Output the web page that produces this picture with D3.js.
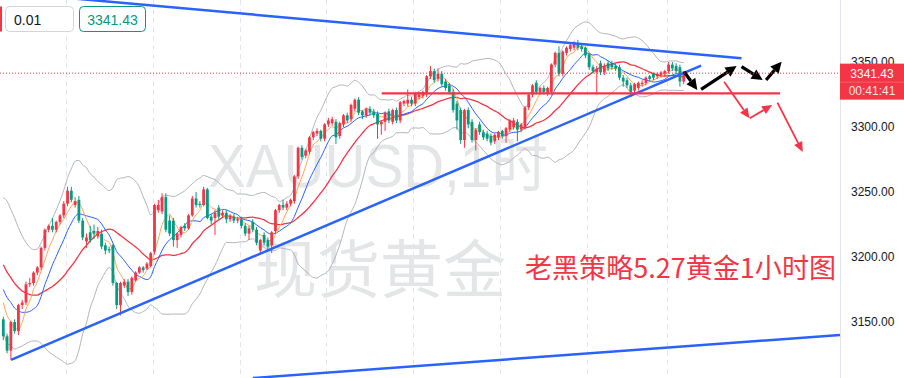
<!DOCTYPE html>
<html>
<head>
<meta charset="utf-8">
<script src="https://cdn.jsdelivr.net/npm/d3@7"></script>
<style>
  body { margin: 0; background: #fff; overflow: hidden; }
  svg { display: block; }
</style>
</head>
<body>
<script>
//Width and height
var w = 904;
var h = 378;
var plotW = 840;

//Hourly candles, XAUUSD (price units)
var opens = [3152,3139,3128,3150,3143,3163,3165,3179,3180,3188,
3192,3207,3221,3224,3221,3227,3232,3241,3251,3240,
3244,3228,3212,3219,3220,3216,3218,3209,3206,3209,
3180,3163,3178,3181,3173,3182,3188,3192,3191,3193,
3204,3236,3235,3246,3228,3228,3213,3217,3224,3222,
3232,3245,3241,3240,3252,3231,3230,3238,3232,3234,
3229,3231,3228,3229,3224,3218,3227,3221,3205,3217,
3213,3209,3220,3236,3240,3238,3241,3243,3262,3284,
3278,3281,3292,3295,3297,3291,3302,3303,3304,3293,
3302,3309,3306,3314,3321,3312,3309,3314,3312,3310,
3302,3304,3312,3304,3313,3305,3318,3318,3321,3318,
3323,3324,3325,3339,3343,3337,3341,3335,3332,3327,
3318,3313,3290,3313,3304,3290,3302,3296,3295,3293,
3289,3292,3297,3293,3298,3300,3304,3298,3300,3315,
3325,3334,3327,3330,3326,3327,3348,3357,3341,3357,
3360,3361,3364,3362,3361,3356,3346,3342,3349,3342,
3349,3349,3347,3346,3338,3336,3332,3328,3330,3333,
3334,3339,3341,3339,3340,3341,3343,3348,3347,3346,
3335];
var highs = [3154,3141,3151,3152,3164,3167,3181,3184,3189,3193,
3208,3222,3225,3230,3228,3233,3243,3254,3254,3246,
3247,3230,3218,3224,3225,3223,3221,3211,3208,3210,
3181,3181,3183,3183,3185,3189,3193,3193,3196,3204,
3241,3244,3249,3249,3232,3230,3219,3224,3226,3233,
3247,3250,3243,3254,3253,3233,3236,3240,3236,3236,
3233,3233,3231,3231,3226,3224,3229,3223,3214,3219,
3215,3220,3237,3241,3244,3243,3245,3263,3285,3286,
3283,3293,3297,3299,3298,3303,3307,3308,3306,3304,
3310,3311,3318,3322,3323,3313,3315,3316,3314,3312,
3305,3312,3314,3314,3315,3320,3321,3329,3323,3327,
3327,3328,3340,3347,3345,3345,3343,3337,3334,3329,
3320,3315,3314,3315,3306,3299,3304,3298,3297,3295,
3295,3297,3298,3300,3306,3307,3306,3303,3316,3326,
3333,3336,3331,3332,3331,3349,3358,3362,3359,3362,
3364,3366,3367,3364,3362,3357,3348,3347,3351,3349,
3351,3351,3349,3348,3340,3338,3334,3334,3335,3336,
3339,3340,3342,3342,3343,3344,3350,3350,3349,3348,
3343];
var lows = [3136,3126,3121,3141,3140,3160,3163,3177,3178,3186,
3190,3205,3219,3219,3219,3225,3230,3239,3242,3238,
3226,3213,3207,3211,3214,3214,3206,3202,3203,3178,
3160,3155,3176,3170,3171,3181,3187,3188,3190,3192,
3202,3234,3233,3219,3216,3208,3207,3215,3220,3221,
3231,3238,3238,3239,3229,3225,3217,3229,3230,3226,
3227,3226,3226,3222,3216,3213,3219,3209,3203,3209,
3204,3203,3218,3234,3236,3236,3239,3241,3260,3275,
3276,3279,3290,3293,3289,3289,3300,3301,3287,3291,
3300,3303,3304,3312,3309,3306,3307,3309,3307,3291,
3294,3297,3303,3302,3303,3303,3316,3316,3316,3316,
3321,3322,3323,3337,3334,3335,3331,3328,3325,3311,
3298,3287,3284,3299,3288,3282,3294,3290,3289,3286,
3287,3290,3291,3288,3296,3298,3289,3296,3298,3313,
3323,3325,3325,3325,3324,3325,3346,3339,3339,3355,
3358,3359,3359,3358,3353,3344,3341,3325,3340,3340,
3343,3344,3343,3336,3331,3330,3323,3326,3328,3331,
3332,3335,3336,3337,3338,3339,3341,3343,3341,3331,
3333];
var closes = [3139,3128,3150,3143,3163,3165,3179,3180,3188,3192,
3207,3221,3224,3221,3227,3232,3241,3251,3244,3243,
3228,3215,3215,3213,3218,3220,3208,3205,3205,3180,
3163,3180,3181,3173,3184,3188,3192,3190,3195,3203,
3240,3240,3246,3221,3218,3213,3218,3223,3222,3232,
3245,3240,3240,3252,3230,3228,3234,3231,3234,3229,
3231,3228,3229,3224,3218,3222,3221,3211,3213,3211,
3208,3219,3236,3240,3238,3241,3244,3262,3284,3277,
3282,3292,3296,3297,3291,3302,3305,3306,3292,3303,
3309,3305,3317,3321,3311,3309,3314,3311,3309,3302,
3304,3311,3305,3313,3305,3319,3320,3321,3318,3326,
3325,3327,3339,3343,3336,3341,3333,3330,3327,3313,
3305,3290,3313,3302,3290,3298,3296,3292,3291,3288,
3294,3296,3293,3299,3305,3305,3298,3302,3315,3325,
3332,3327,3330,3327,3330,3348,3357,3341,3358,3361,
3363,3365,3361,3360,3355,3346,3343,3345,3342,3347,
3345,3346,3345,3338,3335,3332,3327,3333,3334,3334,
3338,3337,3338,3341,3342,3343,3348,3345,3343,3335,
3341.43];

//closes before the first visible bar (only feed the averages)
var priorCloses = [3240,3236,3232,3226,3218,3210,3204,3198,3190,3176,
3190,3188,3186,3182,3179,3178,3174,3168,3166];

var sessionBreaks = [16.5, 39.5, 62.5, 85.5, 108.5, 131.5, 154.5, 175.5];
var priceTicks = [3150, 3200, 3250, 3300, 3350];
var lastPrice = 3341.43;
var countdown = "00:41:41";
var lotSize = "0.01";

//drawings: [bar index, price]
var upperTrend = [[0, 3403.7], [195.3, 3352.8]];
var lowerTrend = [[2.04, 3120.8], [184.6, 3347.2]];
var bottomTrend = [[66, 3106.9], [240, 3144]];
var supportLine = [[100.1, 3325.8], [205.5, 3325.8]];
//arrows: [from index, from price, to index, to price]
var blackArrows = [[180.1, 3342.5, 183.6, 3328.5], [184.6, 3329, 194.0, 3346.9],
                   [195.3, 3346.4, 200.9, 3336.2], [201.8, 3336.2, 205.9, 3350.2]];
var redArrows = [[190.7, 3334.8, 197.4, 3306.7], [197.5, 3306.7, 203.4, 3316.9],
                 [204.8, 3318.7, 211.5, 3280.8]];

var watermark1 = "XAUUSD,1时";
var watermark2 = "现货黄金";
var note = "老黑策略5.27黄金1小时图";

var up = "#f23645", down = "#089981";

var xScale = d3.scaleLinear().domain([0, 180]).range([3.3, 3.3 + 180 * 3.78]);
var yScale = d3.scaleLinear().domain([3150, 3350]).range([322, 62]);

var svg = d3.select("body").append("svg")
            .attr("width", w)
            .attr("height", h);

svg.append("defs").append("clipPath").attr("id", "plot")
   .append("rect").attr("x", 0).attr("y", 0).attr("width", plotW).attr("height", h);

// watermark
svg.append("text")
   .attr("x", 208).attr("y", 187)
   .attr("textLength", 340).attr("lengthAdjust", "spacingAndGlyphs")
   .style("font-family", "'Liberation Sans', Arial, 'Noto Sans CJK SC', sans-serif")
   .style("font-size", "62px")
   .style("fill", "rgba(120,123,134,0.2)")
   .text(watermark1);

svg.append("text")
   .attr("x", 254).attr("y", 292)
   .attr("textLength", 252).attr("lengthAdjust", "spacingAndGlyphs")
   .style("font-family", "'Noto Sans CJK SC', sans-serif")
   .style("font-size", "63px")
   .style("fill", "rgba(120,123,134,0.2)")
   .text(watermark2);

// day separators
svg.selectAll(".grid")
   .data(sessionBreaks)
   .enter().append("line")
   .attr("class", "grid")
   .attr("x1", function(d) { return Math.round(xScale(d)) + 0.5; })
   .attr("x2", function(d) { return Math.round(xScale(d)) + 0.5; })
   .attr("y1", 0).attr("y2", h)
   .attr("stroke", "#e3e5ec")
   .attr("stroke-dasharray", "5,4");

var plot = svg.append("g").attr("clip-path", "url(#plot)");

// indicators
var allCloses = priorCloses.concat(closes);
var off = priorCloses.length;
function windowAt(n, i) { return allCloses.slice(i + off - n + 1, i + off + 1); }
function sma(n, i) { return d3.mean(windowAt(n, i)); }
function sdev(n, i) {
  var s = windowAt(n, i), m = d3.mean(s);
  return Math.sqrt(d3.mean(s, function(v) { return (v - m) * (v - m); }));
}

var idx = d3.range(closes.length);
var indLine = d3.line()
                .x(function(d) { return xScale(d.i); })
                .y(function(d) { return yScale(d.v); })
                .curve(d3.curveMonotoneX);

var bands = [
  { color: "#b2b5be", width: 1, f: function(i) { return sma(20, i) + 2 * sdev(20, i); } },
  { color: "#b2b5be", width: 1, f: function(i) { return sma(20, i) - 2 * sdev(20, i); } },
  { color: "#f23645", width: 1.3, f: function(i) { return sma(20, i); } },
  { color: "#2962ff", width: 1, f: function(i) { return sma(10, i); } },
  { color: "#ffa552", width: 1, f: function(i) { return sma(5, i); } }
];
bands.forEach(function(b) {
  plot.append("path")
      .datum(idx.map(function(i) { return { i: i, v: b.f(i) }; }))
      .attr("fill", "none")
      .attr("stroke", b.color)
      .attr("stroke-width", b.width)
      .attr("d", indLine);
});

// candles
var candles = plot.selectAll(".candle")
                  .data(idx)
                  .enter().append("g")
                  .attr("class", "candle");
candles.append("line")
       .attr("x1", function(i) { return xScale(i); })
       .attr("x2", function(i) { return xScale(i); })
       .attr("y1", function(i) { return yScale(highs[i]); })
       .attr("y2", function(i) { return yScale(lows[i]); })
       .attr("stroke", function(i) { return closes[i] >= opens[i] ? up : down; })
       .attr("stroke-width", 1);
candles.append("rect")
       .attr("x", function(i) { return xScale(i) - 1.4; })
       .attr("width", 2.8)
       .attr("y", function(i) { return yScale(Math.max(opens[i], closes[i])); })
       .attr("height", function(i) { return Math.max(1, Math.abs(yScale(opens[i]) - yScale(closes[i]))); })
       .attr("fill", function(i) { return closes[i] >= opens[i] ? up : down; });

// drawings
var seg = d3.line()
            .x(function(d) { return xScale(d[0]); })
            .y(function(d) { return yScale(d[1]); });

[upperTrend, lowerTrend, bottomTrend].forEach(function(t) {
  plot.append("path").attr("d", seg(t))
      .attr("stroke", "#2962ff").attr("stroke-width", 2.5).attr("fill", "none");
});
plot.append("path").attr("d", seg(supportLine))
    .attr("stroke", "#f23645").attr("stroke-width", 2.2).attr("fill", "none");

function drawArrow(a, color, shaft, headLen, headHalf) {
  var x1 = xScale(a[0]), y1 = yScale(a[1]), x2 = xScale(a[2]), y2 = yScale(a[3]);
  var ang = Math.atan2(y2 - y1, x2 - x1);
  var bx = x2 - headLen * Math.cos(ang), by = y2 - headLen * Math.sin(ang);
  plot.append("line")
      .attr("x1", x1).attr("y1", y1).attr("x2", bx).attr("y2", by)
      .attr("stroke", color).attr("stroke-width", shaft);
  plot.append("path")
      .attr("d", "M" + x2 + "," + y2 +
                 "L" + (bx + headHalf * Math.sin(ang)) + "," + (by - headHalf * Math.cos(ang)) +
                 "L" + (bx - headHalf * Math.sin(ang)) + "," + (by + headHalf * Math.cos(ang)) + "Z")
      .attr("fill", color);
}
blackArrows.forEach(function(a) { drawArrow(a, "#000", 3.2, 11, 5.5); });
redArrows.forEach(function(a) { drawArrow(a, "#f23645", 1.8, 10, 4.5); });

// last price line
plot.append("line")
    .attr("x1", 0).attr("x2", plotW)
    .attr("y1", yScale(lastPrice)).attr("y2", yScale(lastPrice))
    .attr("stroke", "#f23645").attr("stroke-width", 1)
    .attr("stroke-dasharray", "1,2");

// note
svg.append("text")
   .attr("x", 525).attr("y", 278)
   .attr("textLength", 311).attr("lengthAdjust", "spacingAndGlyphs")
   .style("font-family", "'Noto Sans CJK SC', sans-serif")
   .style("font-size", "27px")
   .style("fill", "#f23645")
   .text(note);

// price axis
svg.append("line")
   .attr("x1", plotW + 0.5).attr("x2", plotW + 0.5)
   .attr("y1", 0).attr("y2", h)
   .attr("stroke", "#e0e3eb");

var yAxis = d3.axisRight(yScale)
              .tickValues(priceTicks)
              .tickFormat(d3.format(".2f"))
              .tickSize(0)
              .tickPadding(11);
var ax = svg.append("g")
            .attr("transform", "translate(" + plotW + ",0)")
            .call(yAxis);
ax.select(".domain").remove();
ax.selectAll("text")
  .style("font-family", "'Liberation Sans', Arial, sans-serif")
  .style("font-size", "12px")
  .style("fill", "#131722");

var ly = yScale(lastPrice);
svg.append("rect")
   .attr("x", plotW).attr("y", ly - 9.5).attr("width", w - plotW).attr("height", 36)
   .attr("fill", "#f23645");
svg.append("line")
   .attr("x1", plotW).attr("x2", w).attr("y1", ly + 9).attr("y2", ly + 9)
   .attr("stroke", "#f56a75").attr("stroke-width", 0.8);
svg.append("text")
   .attr("x", 872).attr("y", ly + 4.5)
   .attr("text-anchor", "middle")
   .style("font-family", "'Liberation Sans', Arial, sans-serif")
   .style("font-size", "12px")
   .style("fill", "#fff")
   .text(d3.format(".2f")(lastPrice));
svg.append("text")
   .attr("x", 872).attr("y", ly + 22)
   .attr("text-anchor", "middle")
   .style("font-family", "'Liberation Sans', Arial, sans-serif")
   .style("font-size", "12px")
   .style("fill", "#fde3e5")
   .text(countdown);

// order panel (top left)
svg.append("rect")
   .attr("x", 0).attr("y", 6.5).attr("width", 2).attr("height", 25)
   .attr("fill", "#f23645");
svg.append("rect")
   .attr("x", 5.5).attr("y", 6.5).attr("width", 68).attr("height", 25).attr("rx", 4)
   .attr("fill", "#fff").attr("stroke", "#d1d4dc");
svg.append("text")
   .attr("x", 14).attr("y", 24.5)
   .style("font-family", "'Liberation Sans', Arial, sans-serif")
   .style("font-size", "14px")
   .style("fill", "#131722")
   .text(lotSize);
svg.append("rect")
   .attr("x", 79.5).attr("y", 6.5).attr("width", 66).attr("height", 25).attr("rx", 4)
   .attr("fill", "#fff").attr("stroke", "#089981");
svg.append("text")
   .attr("x", 112.5).attr("y", 24.5)
   .attr("text-anchor", "middle")
   .style("font-family", "'Liberation Sans', Arial, sans-serif")
   .style("font-size", "14px")
   .style("fill", "#089981")
   .text(d3.format(".2f")(lastPrice));
</script>
</body>
</html>
